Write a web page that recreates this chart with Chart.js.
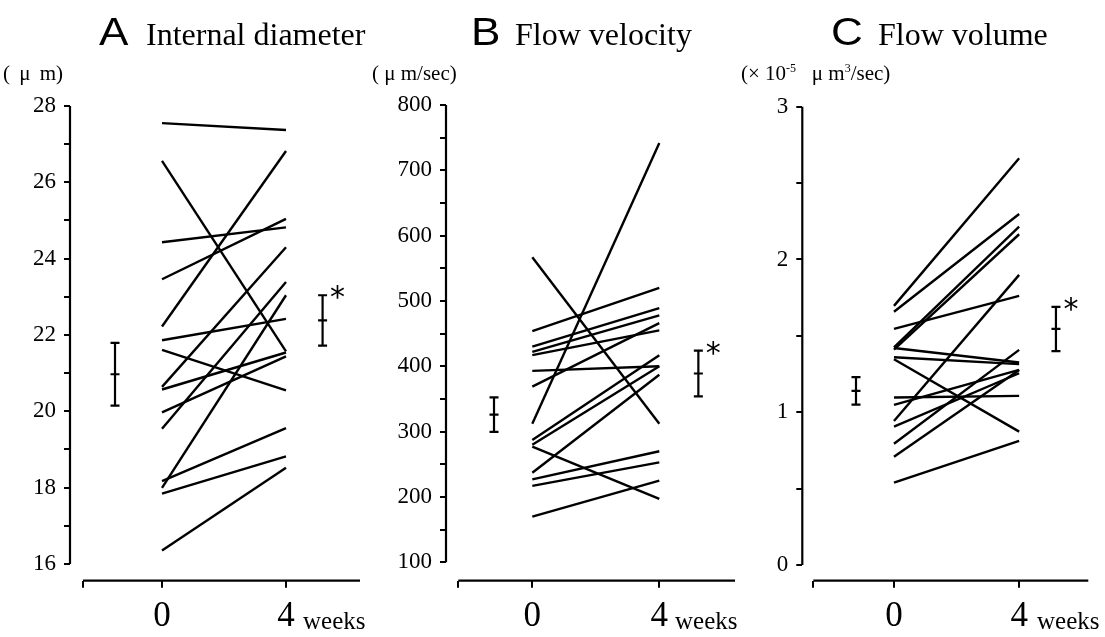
<!doctype html>
<html>
<head>
<meta charset="utf-8" />
<title>Internal diameter / Flow velocity / Flow volume</title>
<script src="https://cdn.jsdelivr.net/npm/chart.js@4.4.0/dist/chart.umd.min.js"></script>
<style>
  body { margin: 0; background: #fff; width: 1105px; height: 637px; overflow: hidden; position: relative;
         font-family: "Liberation Serif", "Times New Roman", serif; color: #000; }
  canvas { position: absolute; top: 0; }
  .txt { position: absolute; white-space: nowrap; line-height: 1; z-index: 2; }
  .letter { font-family: "Liberation Sans", Arial, sans-serif; font-size: 38px; transform: scaleX(1.16); transform-origin: left top; }
  .name { font-size: 32px; }
  .unit { font-size: 21px; }
  .unit sup { font-size: 12px; line-height: 0; vertical-align: 8px; }
  .wk { font-size: 25px; }
</style>
</head>
<body>
  <div class="txt letter" style="left:99px; top:13px">A</div>
  <div class="txt name" style="left:146px; top:18px">Internal diameter</div>
  <div class="txt letter" style="left:471px; top:13px">B</div>
  <div class="txt name" style="left:515px; top:18px">Flow velocity</div>
  <div class="txt letter" style="left:831px; top:13px">C</div>
  <div class="txt name" style="left:878px; top:18px">Flow volume</div>

  <div class="txt unit" style="left:3px; top:63px; word-spacing:4px">( μ m)</div>
  <div class="txt unit" style="left:372px; top:63px">( μ m/sec)</div>
  <div class="txt unit" style="left:741px; top:63px">(× 10<sup>-5</sup>&nbsp;&nbsp; μ m<sup>3</sup>/sec)</div>

  <div class="txt wk" style="left:303px; top:608px">weeks</div>
  <div class="txt wk" style="left:675px; top:608px">weeks</div>
  <div class="txt wk" style="left:1037px; top:608px">weeks</div>

  <canvas id="cA" width="368" height="637" style="left:0px"></canvas>
  <canvas id="cB" width="370" height="637" style="left:370px"></canvas>
  <canvas id="cC" width="365" height="637" style="left:740px"></canvas>

<script>
// time points (weeks)
const weekTicks = [0, 4];

// A  internal diameter (um), one value per vessel at 0 and 4 weeks
const diamWeek0 = [27.55, 26.56, 24.43, 23.46, 22.22, 21.86, 21.61, 20.64, 20.57, 19.97, 19.54, 18.17, 17.99, 17.84, 16.35];
const diamWeek4 = [27.37, 21.57, 24.82, 25.04, 26.82, 22.42, 20.55, 24.30, 21.54, 21.44, 23.39, 19.56, 23.04, 18.82, 18.52];
const diamMean = [20.97, 22.38];
const diamSE = [0.82, 0.66];
const diamTicks = [16, 17, 18, 19, 20, 21, 22, 23, 24, 25, 26, 27, 28];
const diamLabels = [16, 18, 20, 22, 24, 26, 28];

// B  flow velocity (um/sec)
const velWeek0 = [567, 312, 454, 430, 422, 417, 393, 369, 287, 280, 277, 237, 227, 217, 170];
const velWeek4 = [312, 742, 520, 489, 478, 455, 400, 466, 417, 400, 197, 387, 270, 253, 225];
const velMean = [326, 389];
const velSE = [26.5, 35];
const velTicks = [100, 150, 200, 250, 300, 350, 400, 450, 500, 550, 600, 650, 700, 750, 800];
const velLabels = [100, 200, 300, 400, 500, 600, 700, 800];

// C  flow volume (x10^-5 um3/sec)
const volWeek0 = [1.696, 1.658, 1.545, 1.425, 1.41, 1.42, 1.36, 1.347, 1.096, 1.048, 0.943, 0.906, 0.793, 0.709, 0.539];
const volWeek4 = [2.662, 2.298, 1.761, 2.215, 2.165, 1.325, 1.315, 0.873, 1.107, 1.277, 1.899, 1.255, 1.408, 1.277, 0.812];
const volMean = [1.14, 1.545];
const volSE = [0.09, 0.145];
const volTicks = [0, 0.5, 1, 1.5, 2, 2.5, 3];
const volLabels = [0, 1, 2, 3];

// significance vs baseline, for [before, after] bars
const sigFlags = [false, true];

// axis lines, error bars and asterisks, all placed through the chart scales
const framePlugin = {
  id: 'frame',
  afterDraw(chart, args, o) {
    const ctx = chart.ctx, xs = chart.scales.x, ys = chart.scales.y, area = chart.chartArea;
    ctx.save();
    ctx.strokeStyle = '#000';
    ctx.fillStyle = '#000';
    ctx.lineWidth = 2.2;
    ctx.beginPath();
    ctx.moveTo(area.left, ys.getPixelForValue(o.yTicks[0]));
    ctx.lineTo(area.left, ys.getPixelForValue(o.yTicks[o.yTicks.length - 1]));
    ctx.moveTo(xs.getPixelForValue(o.xStart), area.bottom);
    ctx.lineTo(area.right, area.bottom);
    ctx.stroke();

    o.mean.forEach((m, i) => {
      const px = xs.getPixelForValue(o.errX[i]);
      const hi = ys.getPixelForValue(m + o.se[i]);
      const lo = ys.getPixelForValue(m - o.se[i]);
      const mid = ys.getPixelForValue(m);
      ctx.beginPath();
      ctx.moveTo(px, hi); ctx.lineTo(px, lo);
      [hi, mid, lo].forEach(y => { ctx.moveTo(px - 4.5, y); ctx.lineTo(px + 4.5, y); });
      ctx.stroke();
      if (sigFlags[i]) {
        ctx.font = '30px "DejaVu Sans"';
        ctx.textAlign = 'center';
        ctx.textBaseline = 'alphabetic';
        ctx.fillText('*', px + 15, hi + 12);
      }
    });
    ctx.restore();
  }
};

function makePanel(p) {
  const datasets = p.w0.map((v, i) => ({
    data: [{ x: weekTicks[0], y: v }, { x: weekTicks[1], y: p.w4[i] }],
    borderColor: '#000',
    borderWidth: 2.4,
    pointRadius: 0,
    fill: false,
    tension: 0
  }));

  new Chart(document.getElementById(p.id), {
    type: 'line',
    data: { datasets },
    options: {
      responsive: false,
      animation: false,
      events: [],
      layout: { padding: { top: p.top, right: p.padRight, left: 0, bottom: 0 } },
      plugins: {
        legend: { display: false },
        tooltip: { enabled: false },
        frame: { yTicks: p.yTicks, xStart: p.xStart, errX: p.errX, mean: p.mean, se: p.se }
      },
      scales: {
        x: {
          type: 'linear',
          min: p.xMin, max: p.xMax,
          border: { display: false },
          grid: { drawOnChartArea: false, color: '#000', lineWidth: 2, tickLength: 7 },
          ticks: {
            color: '#000', padding: 8, autoSkip: false, maxRotation: 0,
            font: { family: 'Liberation Serif', size: 35 },
            callback: v => weekTicks.includes(v) ? String(v) : ''
          },
          afterBuildTicks: s => { s.ticks = [p.xStart].concat(weekTicks).map(v => ({ value: v })); },
          afterFit: s => { s.height = 637 - 580.7; }
        },
        y: {
          type: 'linear',
          min: p.yMin, max: p.yMax,
          border: { display: false },
          grid: { drawOnChartArea: false, color: '#000', lineWidth: 2, tickLength: 6 },
          ticks: {
            color: '#000', padding: 8, autoSkip: false,
            font: { family: 'Liberation Serif', size: 23 },
            callback: v => p.yLabels.includes(v) ? String(v) : ''
          },
          afterBuildTicks: s => { s.ticks = p.yTicks.map(v => ({ value: v })); },
          afterFit: s => { s.width = p.axisW; }
        }
      }
    },
    plugins: [framePlugin]
  });
}

makePanel({
  id: 'cA', w0: diamWeek0, w4: diamWeek4, mean: diamMean, se: diamSE,
  yTicks: diamTicks, yLabels: diamLabels, yMin: 15.56, yMax: 28,
  xMin: -2.968, xMax: 6.387, xStart: -2.548, errX: [-1.516, 5.18],
  top: 106, padRight: 8, axisW: 70
});
makePanel({
  id: 'cB', w0: velWeek0, w4: velWeek4, mean: velMean, se: velSE,
  yTicks: velTicks, yLabels: velLabels, yMin: 71.8, yMax: 800,
  xMin: -2.718, xMax: 6.384, xStart: -2.331, errX: [-1.206, 5.23],
  top: 105, padRight: 5, axisW: 76
});
makePanel({
  id: 'cC', w0: volWeek0, w4: volWeek4, mean: volMean, se: volSE,
  yTicks: volTicks, yLabels: volLabels, yMin: -0.103, yMax: 3,
  xMin: -2.93, xMax: 6.21, xStart: -2.578, errX: [-1.214, 5.176],
  top: 106.7, padRight: 16.7, axisW: 62.3
});
</script>
</body>
</html>
